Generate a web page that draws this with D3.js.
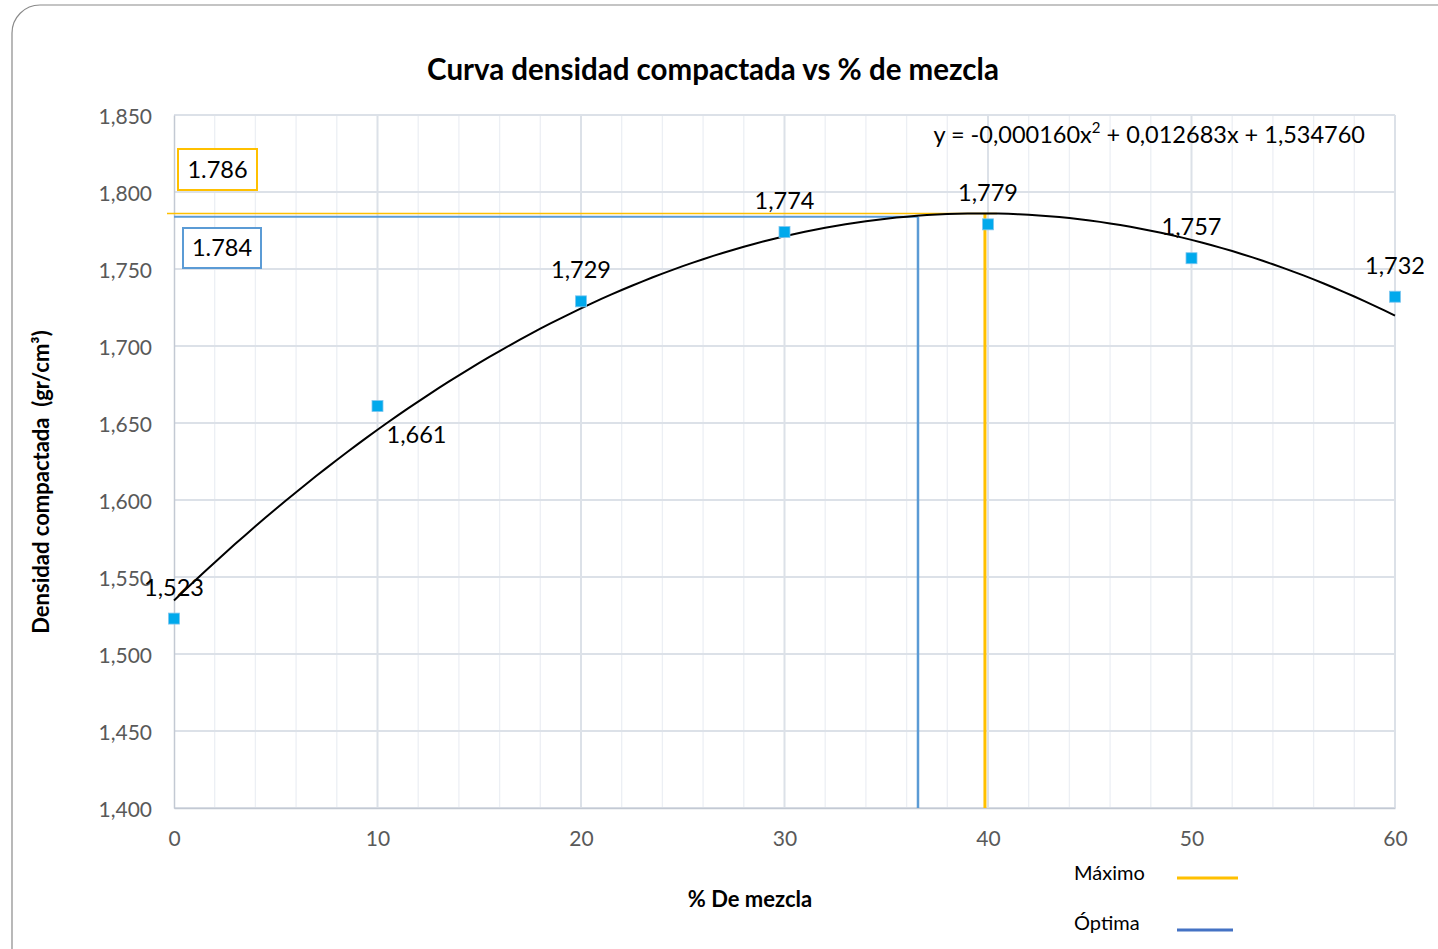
<!DOCTYPE html>
<html><head><meta charset="utf-8">
<script src="https://cdn.jsdelivr.net/npm/d3@7"></script>
<style>body{margin:0;background:#fff;}svg{display:block;}text{font-family:Lato,"Open Sans",sans-serif;}</style>
</head><body>
<script>
const mezcla = [0, 10, 20, 30, 40, 50, 60];
const densidad = [1.523, 1.661, 1.729, 1.774, 1.779, 1.757, 1.732];
const trendCoef = [-0.000160, 0.012683, 1.534760]; // a, b, c
const maximo = {x: 39.85, y: 1.786};
const optima = {x: 36.56, y: 1.784};
const xTicks = [0, 10, 20, 30, 40, 50, 60];
const yTicks = [1.40, 1.45, 1.50, 1.55, 1.60, 1.65, 1.70, 1.75, 1.80, 1.85];
const labelOffsets = [[0,-29],[39,31],[0,-29],[0,-29],[0,-29],[0,-29],[0,-29]];

const W = 1438, H = 949;
const svg = d3.select("body").append("svg").attr("width", W).attr("height", H);
svg.append("rect").attr("x", 12).attr("y", 5).attr("width", 1480).attr("height", 1000)
  .attr("rx", 28).attr("fill", "#fff").attr("stroke", "#8a8a8a").attr("stroke-width", 1.2);

const x = d3.scaleLinear().domain([0, 60]).range([174, 1395]);
const y = d3.scaleLinear().domain([1.40, 1.85]).range([808, 115]);
const fmt = v => d3.format(",.3f")(v).replace(".", ",");

// minor vertical grid
const g = svg.append("g");
g.selectAll(".minor").data(d3.range(0, 61, 2).filter(v => v % 10 !== 0)).join("line")
  .attr("x1", d => x(d)).attr("x2", d => x(d)).attr("y1", y(1.85)).attr("y2", y(1.40))
  .attr("stroke", "#eceff4").attr("stroke-width", 1.3);
g.selectAll(".hmaj").data(yTicks).join("line")
  .attr("x1", x(0)).attr("x2", x(60)).attr("y1", d => y(d)).attr("y2", d => y(d))
  .attr("stroke", "#dce1e8").attr("stroke-width", 2);
g.selectAll(".vmaj").data(xTicks.slice(1)).join("line")
  .attr("x1", d => x(d)).attr("x2", d => x(d)).attr("y1", y(1.85)).attr("y2", y(1.40))
  .attr("stroke", "#dce1e8").attr("stroke-width", 2);

// axes
const yAxis = d3.axisLeft(y).tickValues(yTicks).tickFormat(fmt).tickSize(0).tickPadding(22);
const ya = svg.append("g").attr("transform", `translate(${x(0)},0)`).call(yAxis);
ya.select(".domain").attr("stroke", "#c3c9d3").attr("stroke-width", 1.5);
ya.selectAll("text").attr("font-size", 21).attr("fill", "#595959").attr("font-family", "Lato").attr("dy", "0.4em");
const xAxis = d3.axisBottom(x).tickValues(xTicks).tickSize(0).tickPadding(23);
const xa = svg.append("g").attr("transform", `translate(0,${y(1.40)})`).call(xAxis);
xa.select(".domain").attr("stroke", "#c3c9d3").attr("stroke-width", 1.5);
xa.selectAll("text").attr("font-size", 21).attr("fill", "#595959").attr("font-family", "Lato");

// max / optimal lines
svg.append("line").attr("x1", x(0)).attr("x2", x(optima.x)).attr("y1", y(optima.y)).attr("y2", y(optima.y))
  .attr("stroke", "#5b9bd5").attr("stroke-width", 2);
svg.append("line").attr("x1", x(optima.x)).attr("x2", x(optima.x)).attr("y1", y(optima.y)).attr("y2", y(1.40))
  .attr("stroke", "#5b9bd5").attr("stroke-width", 2.5);
svg.append("line").attr("x1", x(0) - 7).attr("x2", x(maximo.x) + 12).attr("y1", y(maximo.y)).attr("y2", y(maximo.y))
  .attr("stroke", "#ffc000").attr("stroke-width", 1.5);
svg.append("line").attr("x1", x(maximo.x)).attr("x2", x(maximo.x)).attr("y1", y(maximo.y)).attr("y2", y(1.40))
  .attr("stroke", "#ffc000").attr("stroke-width", 3);

// trendline
const xs = d3.range(0, 60.01, 0.5);
const line = d3.line().x(d => x(d)).y(d => y(trendCoef[0]*d*d + trendCoef[1]*d + trendCoef[2]));
svg.append("path").datum(xs).attr("d", line).attr("fill", "none").attr("stroke", "#000").attr("stroke-width", 2);

// points
svg.selectAll(".pt").data(mezcla).join("rect")
  .attr("x", (d) => x(d) - 5.5).attr("y", (d, i) => y(densidad[i]) - 5.5)
  .attr("width", 11).attr("height", 11).attr("fill", "#00a9ec").attr("stroke", "#7fc6ef").attr("stroke-width", 0.8);
svg.selectAll(".lbl").data(mezcla).join("text")
  .attr("x", (d, i) => x(d) + labelOffsets[i][0]).attr("y", (d, i) => y(densidad[i]) + labelOffsets[i][1])
  .attr("text-anchor", "middle").attr("dominant-baseline", "middle")
  .attr("font-size", 23.5).attr("fill", "#000").text((d, i) => fmt(densidad[i]));

// value boxes
function box(bx, by, bw, bh, col, txt) {
  svg.append("rect").attr("x", bx).attr("y", by).attr("width", bw).attr("height", bh)
    .attr("fill", "#fff").attr("stroke", col).attr("stroke-width", 2);
  svg.append("text").attr("x", bx + bw/2).attr("y", by + bh/2 + 2.5).attr("text-anchor", "middle")
    .attr("dominant-baseline", "middle").attr("font-size", 23.5).attr("fill", "#000").text(txt);
}
box(178, 149, 79, 41, "#ffc000", String(maximo.y));
box(183, 228, 78, 40, "#5b9bd5", String(optima.y));

// equation
const eq = svg.append("text").attr("x", 1365).attr("y", 137).attr("text-anchor", "end")
  .attr("dominant-baseline", "middle").attr("font-size", 23.5).attr("fill", "#000");
eq.append("tspan").text("y = -0,000160x");
eq.append("tspan").attr("font-size", 15).attr("dy", -8).text("2");
eq.append("tspan").attr("dy", 8).text(" + 0,012683x + 1,534760");

// title
svg.append("text").attr("x", 713).attr("y", 72).attr("text-anchor", "middle").attr("dominant-baseline", "middle")
  .attr("font-size", 29.5).attr("font-weight", "bold").attr("fill", "#000").text("Curva densidad compactada vs % de mezcla");
svg.append("text").attr("x", 750).attr("y", 901).attr("text-anchor", "middle").attr("dominant-baseline", "middle")
  .attr("font-size", 22).attr("font-weight", "bold").attr("fill", "#000").text("% De mezcla");
svg.append("text").attr("transform", "translate(43,482) rotate(-90)").attr("text-anchor", "middle").attr("dominant-baseline", "middle")
  .attr("font-size", 22).attr("font-weight", "bold").attr("fill", "#000").text("Densidad compactada\u00a0\u00a0(gr/cm³)");

// legend
svg.append("text").attr("x", 1074).attr("y", 875).attr("dominant-baseline", "middle").attr("font-size", 20).text("Máximo");
svg.append("line").attr("x1", 1177).attr("x2", 1238).attr("y1", 878).attr("y2", 878).attr("stroke", "#ffc000").attr("stroke-width", 3);
svg.append("text").attr("x", 1074).attr("y", 925).attr("dominant-baseline", "middle").attr("font-size", 20).text("Óptima");
svg.append("line").attr("x1", 1177).attr("x2", 1233).attr("y1", 930).attr("y2", 930).attr("stroke", "#4472c4").attr("stroke-width", 3);
</script>
</body></html>
